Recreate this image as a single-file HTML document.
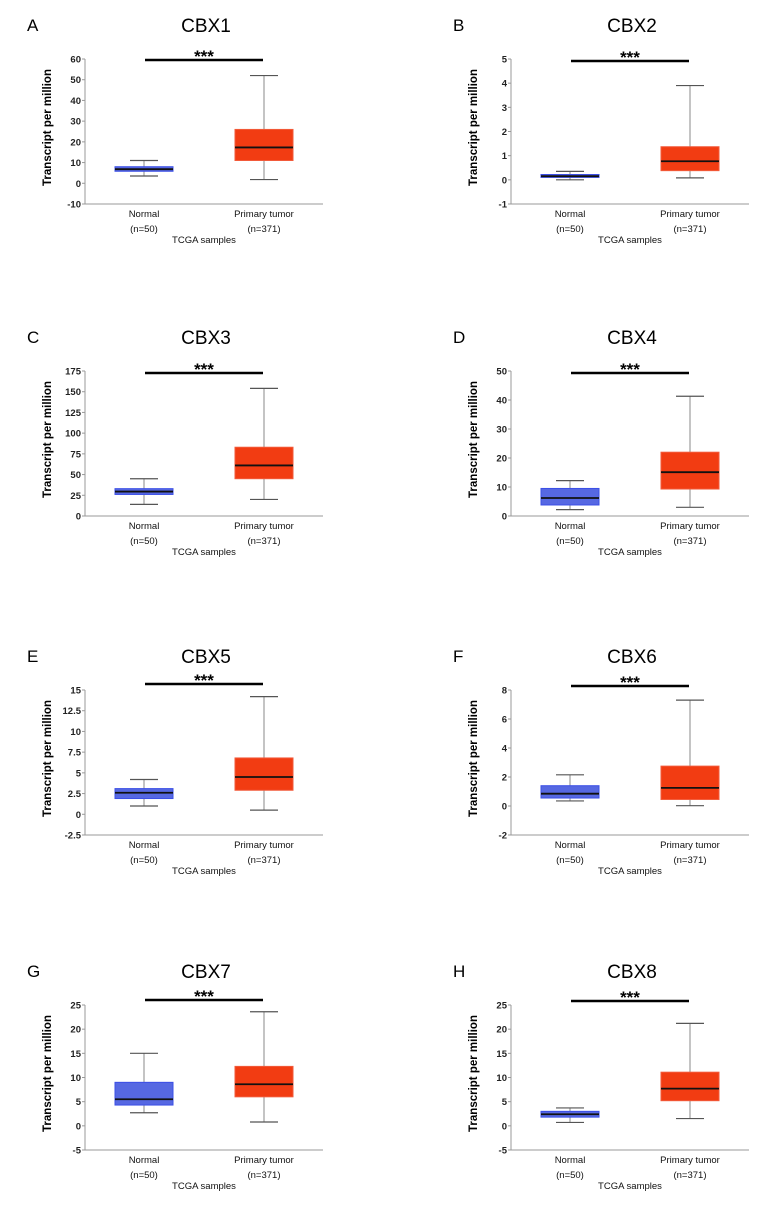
<!DOCTYPE html>
<html><head><meta charset="utf-8"><style>
body{margin:0;background:#fff;}
svg{display:block;font-family:"Liberation Sans",Arial,sans-serif;}
</style></head><body>
<svg id="c" width="779" height="1214" viewBox="0 0 779 1214"></svg>
<script>
const genes = ["CBX1","CBX2","CBX3","CBX4","CBX5","CBX6","CBX7","CBX8"];
const letters = ["A","B","C","D","E","F","G","H"];
const categories = ["Normal","Primary tumor"];
const sampleCounts = ["(n=50)","(n=371)"];
const yMin = [-10,-1,0,0,-2.5,-2,-5,-5];
const yMax = [60,5,175,50,15,8,25,25];
const tickLabels = [
 ["-10","0","10","20","30","40","50","60"],
 ["-1","0","1","2","3","4","5"],
 ["0","25","50","75","100","125","150","175"],
 ["0","10","20","30","40","50"],
 ["-2.5","0","2.5","5","7.5","10","12.5","15"],
 ["-2","0","2","4","6","8"],
 ["-5","0","5","10","15","20","25"],
 ["-5","0","5","10","15","20","25"]
];
// box stats: [whiskerLow, q1, median, q3, whiskerHigh]
const normalStats = [
 [3.5,5.8,6.8,8,11],[0,0.1,0.15,0.22,0.35],[14,26,29.5,33,45],[2.2,3.8,6.2,9.5,12.2],
 [1,1.9,2.6,3.1,4.2],[0.35,0.55,0.85,1.4,2.15],[2.7,4.3,5.5,9,15],[0.7,1.8,2.4,3.0,3.7]
];
const tumorStats = [
 [1.8,11,17.3,26,52],[0.08,0.38,0.77,1.37,3.9],[20,45,61,83,154],[3,9.3,15.1,22,41.3],
 [0.5,2.9,4.5,6.8,14.2],[0.02,0.45,1.25,2.75,7.3],[0.8,6,8.6,12.3,23.6],[1.5,5.2,7.7,11.1,21.2]
];

const svg = document.getElementById('c');
const NS = "http://www.w3.org/2000/svg";
function mk(tag, attrs, parent){
  const e = document.createElementNS(NS, tag);
  for (const k in attrs) e.setAttribute(k, attrs[k]);
  (parent||svg).appendChild(e);
  return e;
}
const rowTops = [59,371,690,1005];
const colAxis = [85,511];
const barOff = [1,2,2,2,-6,-4,-5,-4];
const H = 145, W = 238;

genes.forEach((g, i) => {
  const ax = colAxis[i%2], top = rowTops[Math.floor(i/2)], bot = top + H;
  const grp = mk('g', {});
  
  
  const y = v => bot - (v - yMin[i]) / (yMax[i] - yMin[i]) * H;

  let t = mk('text', {x: ax-58, y: top-28, 'font-size': 17}, grp); t.textContent = letters[i];
   
  t = mk('text', {x: ax+121, y: top-27, 'font-size': 19, 'text-anchor': 'middle'}, grp); t.textContent = g;
   

  let a = mk('line', {x1: ax, y1: top, x2: ax, y2: bot, stroke: '#999', 'stroke-width': 1}, grp);
   
  a = mk('line', {x1: ax, y1: bot, x2: ax+W, y2: bot, stroke: '#999', 'stroke-width': 1}, grp);
   
  const n = tickLabels[i].length;
  tickLabels[i].forEach((lab, k) => {
    const v = yMin[i] + k * (yMax[i] - yMin[i]) / (n - 1);
    const yy = y(v);
    mk('line', {x1: ax-3, y1: yy, x2: ax, y2: yy, stroke: '#999'}, grp);
    const tt = mk('text', {x: ax-4, y: yy+3.5, 'font-size': 9.5, 'text-anchor': 'end', 'font-weight': 'bold', fill: '#222'}, grp);
    tt.textContent = lab;
     
  });
  t = mk('text', {x: 0, y: 0, 'font-size': 11.5, 'font-weight': 'bold', 'text-anchor': 'middle', transform: `translate(${ax-34},${top+H/2-4}) rotate(-90)`}, grp);
  t.textContent = 'Transcript per million';
   

  [normalStats[i], tumorStats[i]].forEach((s, j) => {
    const cx = ax + (j === 0 ? 59 : 179);
    const fill = j === 0 ? '#5668e2' : '#f23c12';
    const stroke = j === 0 ? '#3b4fe6' : '#f25a3a';
    mk('line', {x1: cx, y1: y(s[0]), x2: cx, y2: y(s[4]), stroke: '#888'}, grp);
    mk('line', {x1: cx-14, y1: y(s[0]), x2: cx+14, y2: y(s[0]), stroke: '#555', 'stroke-width': 1.2}, grp);
    mk('line', {x1: cx-14, y1: y(s[4]), x2: cx+14, y2: y(s[4]), stroke: '#555', 'stroke-width': 1.2}, grp);
    const b = mk('rect', {x: cx-29, y: y(s[3]), width: 58, height: y(s[1]) - y(s[3]), fill: fill, stroke: stroke}, grp);
    
    
    mk('line', {x1: cx-29, y1: y(s[2]), x2: cx+29, y2: y(s[2]), stroke: '#111', 'stroke-width': 1.8}, grp);
    let c = mk('text', {x: cx, y: bot+13, 'font-size': 9.5, 'text-anchor': 'middle', fill: '#111'}, grp);
    c.textContent = categories[j];
     
    c = mk('text', {x: cx, y: bot+28, 'font-size': 9.5, 'text-anchor': 'middle', fill: '#111'}, grp);
    c.textContent = sampleCounts[j];
     
  });
  t = mk('text', {x: ax+119, y: bot+39, 'font-size': 9.5, 'text-anchor': 'middle', fill: '#111'}, grp);
  t.textContent = 'TCGA samples';
   

  const by = top + barOff[i];
  const sb = mk('line', {x1: ax+60, y1: by, x2: ax+178, y2: by, stroke: '#000', 'stroke-width': 2.5}, grp);
   
  t = mk('text', {x: ax+119, y: by+2, 'font-size': 17, 'font-weight': 'bold', 'text-anchor': 'middle'}, grp);
  t.textContent = '***';
   
});
</script>
</body></html>
